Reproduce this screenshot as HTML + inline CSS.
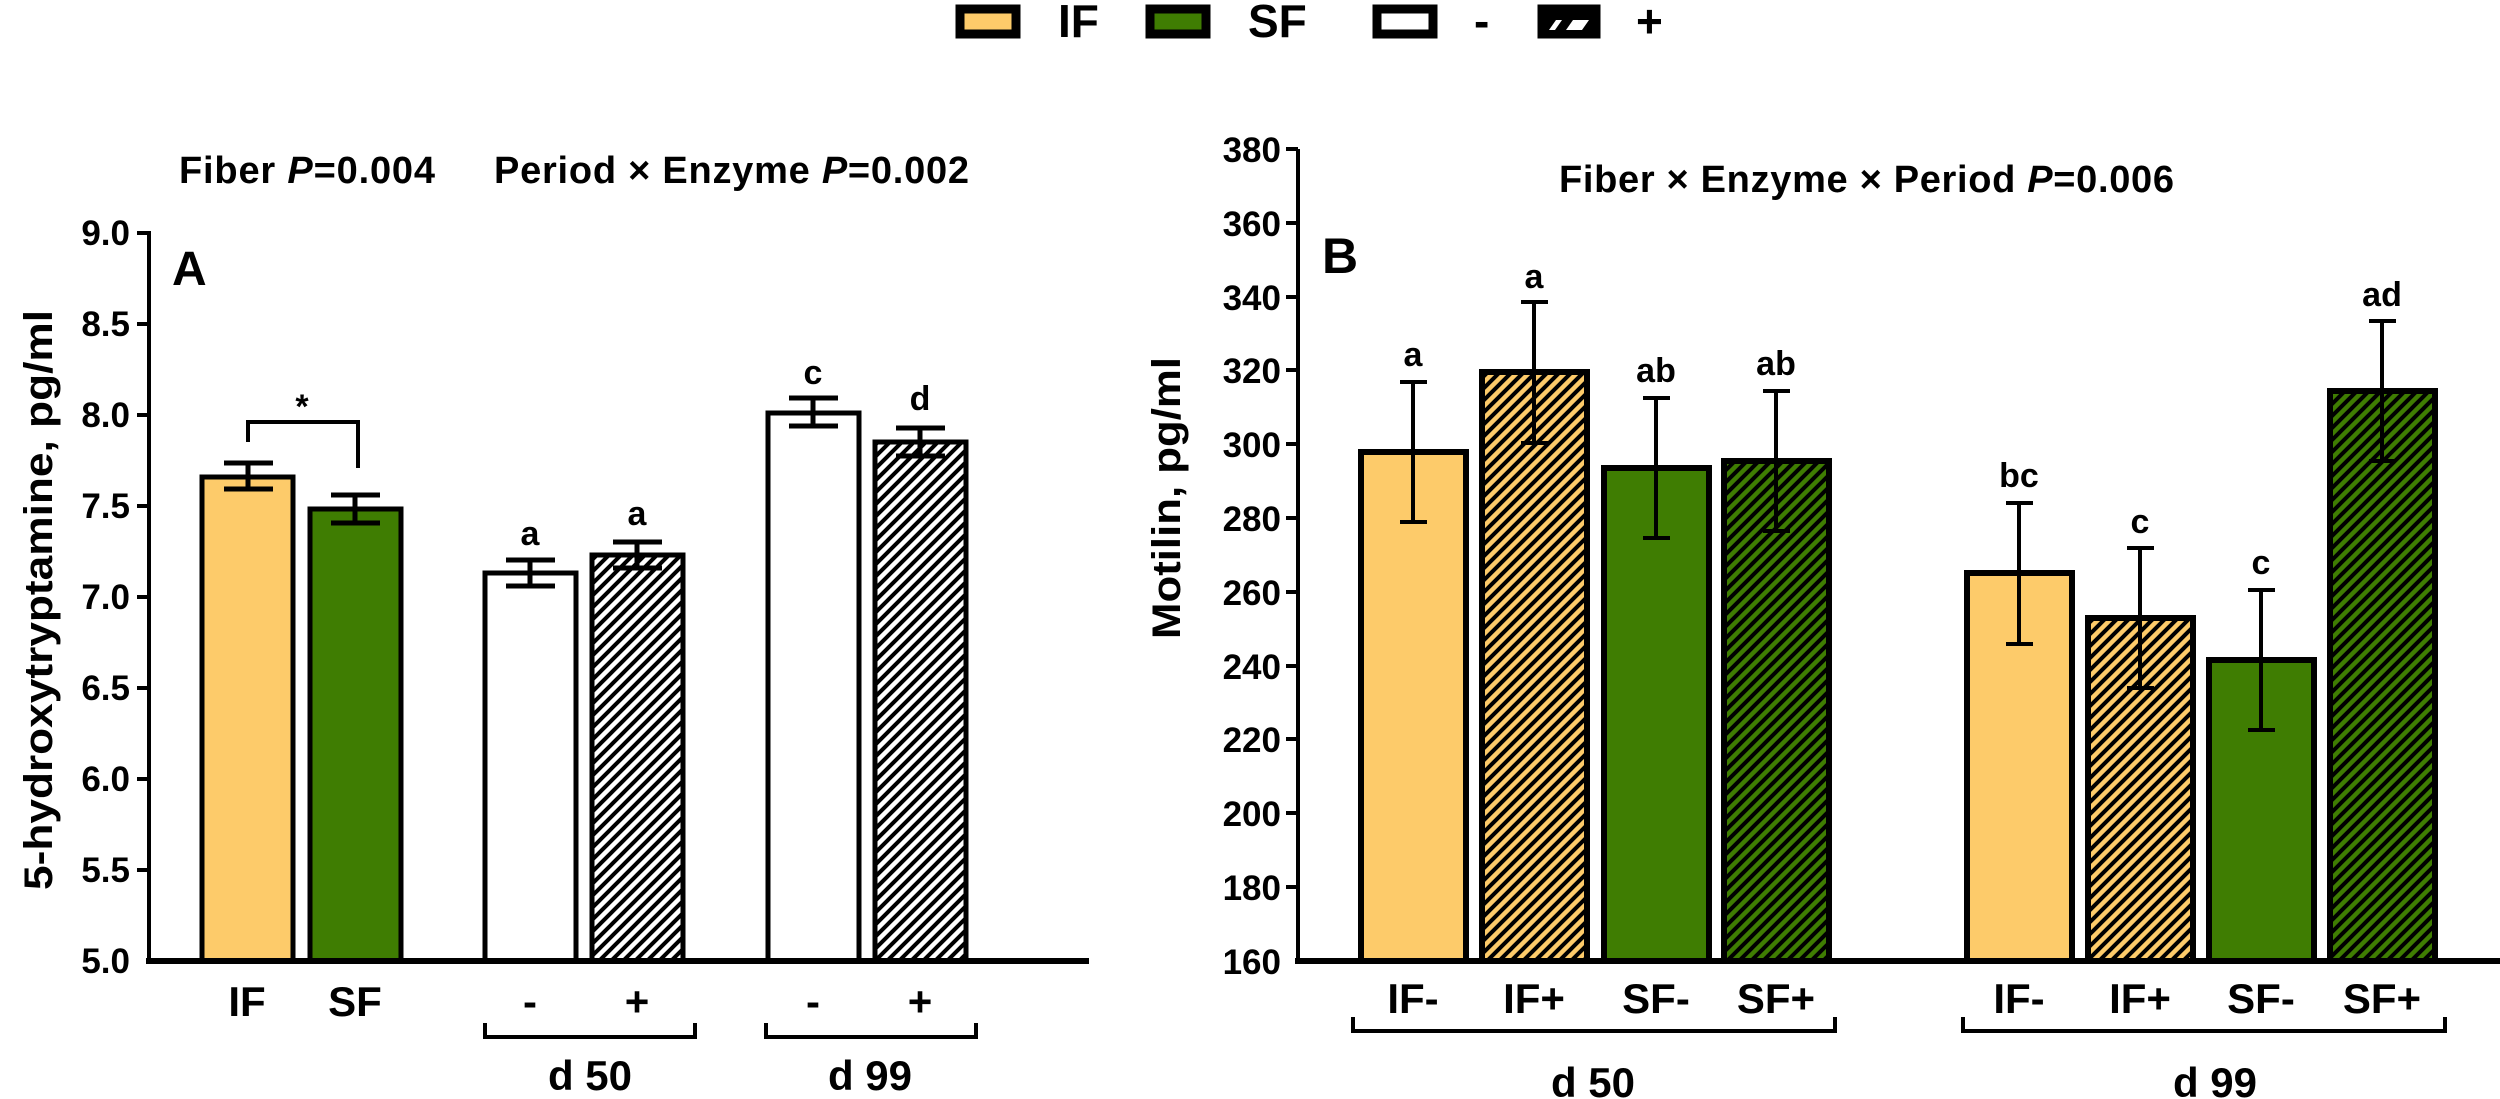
<!DOCTYPE html>
<html><head><meta charset="utf-8"><style>html,body{margin:0;padding:0;background:#fff}svg{display:block}text{font-family:"Liberation Sans",Arial,sans-serif;font-weight:bold;fill:#000}</style></head>
<body>
<svg width="2500" height="1099" viewBox="0 0 2500 1099" xmlns="http://www.w3.org/2000/svg">
<defs>
<pattern id="hw" patternUnits="userSpaceOnUse" width="12" height="12"><rect width="12" height="12" fill="#fff"/><path d="M-3,3 l6,-6 M0,12 l12,-12 M9,15 l6,-6" stroke="#000" stroke-width="4"/></pattern>
<pattern id="hy" patternUnits="userSpaceOnUse" width="12" height="12"><rect width="12" height="12" fill="#FDCB6A"/><path d="M-3,3 l6,-6 M0,12 l12,-12 M9,15 l6,-6" stroke="#000" stroke-width="4"/></pattern>
<pattern id="hg" patternUnits="userSpaceOnUse" width="12" height="12"><rect width="12" height="12" fill="#3F7D02"/><path d="M-3,3 l6,-6 M0,12 l12,-12 M9,15 l6,-6" stroke="#000" stroke-width="4"/></pattern>
</defs>
<!-- Legend -->
<rect x="960" y="9" width="56" height="25" fill="#FDCB6A" stroke="#000" stroke-width="9"/>
<text x="1058" y="37" font-size="46">IF</text>
<rect x="1150" y="9" width="56" height="25" fill="#3F7D02" stroke="#000" stroke-width="9"/>
<text x="1248" y="37" font-size="46">SF</text>
<rect x="1377" y="9" width="56" height="25" fill="#fff" stroke="#000" stroke-width="9"/>
<text x="1474" y="37" font-size="46">-</text>
<rect x="1542" y="9" width="54" height="25" fill="#000" stroke="#000" stroke-width="9"/>
<polygon points="1549,30 1556,20 1562,20 1555,30" fill="#fff"/><polygon points="1566,30 1573,20 1589,20 1582,30" fill="#fff"/>
<text x="1636" y="37" font-size="46">+</text>

<!-- Panel A -->
<text x="179" y="183" font-size="38" textLength="256"><tspan>Fiber </tspan><tspan font-style="italic">P</tspan><tspan>=0.004</tspan></text>
<text x="494" y="183" font-size="38" textLength="475"><tspan>Period × Enzyme </tspan><tspan font-style="italic">P</tspan><tspan>=0.002</tspan></text>
<text x="172" y="285" font-size="48">A</text>
<text transform="translate(52,600) rotate(-90)" text-anchor="middle" font-size="40" textLength="580" lengthAdjust="spacingAndGlyphs">5-hydroxytryptamine, pg/ml</text>
<g font-size="35" text-anchor="end">
<text x="130" y="245">9.0</text><text x="130" y="336">8.5</text><text x="130" y="427">8.0</text><text x="130" y="518">7.5</text><text x="130" y="609">7.0</text><text x="130" y="700">6.5</text><text x="130" y="791">6.0</text><text x="130" y="882">5.5</text><text x="130" y="973">5.0</text>
</g>
<g stroke="#000" stroke-width="4">
<line x1="149" y1="231" x2="149" y2="963"/>
<path d="M137,233H149M137,324H149M137,415H149M137,506H149M137,597H149M137,688H149M137,779H149M137,870H149"/>
</g>
<g stroke="#000" stroke-width="5">
<rect x="202" y="477" width="91" height="484" fill="#FDCB6A"/>
<rect x="310" y="509" width="91" height="452" fill="#3F7D02"/>
<rect x="485" y="573" width="91" height="388" fill="#fff"/>
<rect x="592" y="555" width="91" height="406" fill="url(#hw)"/>
<rect x="768" y="413" width="91" height="548" fill="#fff"/>
<rect x="875" y="442" width="91" height="519" fill="url(#hw)"/>
</g>
<g stroke="#000" stroke-width="5" fill="none">
<path d="M248,463V489M224,463H273M224,489H273"/>
<path d="M355,495V523M331,495H380M331,523H380"/>
<path d="M530,560V586M506,560H555M506,586H555"/>
<path d="M637,542V568M613,542H662M613,568H662"/>
<path d="M813,398V426M789,398H838M789,426H838"/>
<path d="M920,428V456M896,428H945M896,456H945"/>
<path d="M248,442V422H358V468" stroke-width="4"/>
</g>
<line x1="146" y1="961" x2="1089" y2="961" stroke="#000" stroke-width="6"/>
<g font-size="34" text-anchor="middle">
<text x="302" y="418">*</text>
<text x="530" y="545">a</text><text x="637" y="525">a</text><text x="813" y="384">c</text><text x="920" y="410">d</text>
</g>
<g font-size="42" text-anchor="middle">
<text x="247" y="1016">IF</text><text x="355" y="1016">SF</text>
<text x="530" y="1016">-</text><text x="637" y="1016">+</text>
<text x="813" y="1016">-</text><text x="920" y="1016">+</text>
<text x="590" y="1090">d 50</text><text x="870" y="1090">d 99</text>
</g>
<g stroke="#000" stroke-width="4" fill="none">
<path d="M485,1023V1037H695V1023"/><path d="M766,1023V1037H976V1023"/>
</g>

<!-- Panel B -->
<text x="1559" y="192" font-size="38" textLength="615"><tspan>Fiber × Enzyme × Period </tspan><tspan font-style="italic">P</tspan><tspan>=0.006</tspan></text>
<text x="1322" y="273" font-size="50">B</text>
<text transform="translate(1180,498) rotate(-90)" text-anchor="middle" font-size="40" textLength="282" lengthAdjust="spacingAndGlyphs">Motilin, pg/ml</text>
<g font-size="35" text-anchor="end">
<text x="1281" y="162">380</text><text x="1281" y="236">360</text><text x="1281" y="310">340</text><text x="1281" y="383">320</text><text x="1281" y="457">300</text><text x="1281" y="531">280</text><text x="1281" y="605">260</text><text x="1281" y="679">240</text><text x="1281" y="752">220</text><text x="1281" y="826">200</text><text x="1281" y="900">180</text><text x="1281" y="974">160</text>
</g>
<g stroke="#000" stroke-width="4">
<line x1="1298" y1="149" x2="1298" y2="963"/>
<path d="M1286,149H1298M1286,223H1298M1286,297H1298M1286,370H1298M1286,444H1298M1286,518H1298M1286,592H1298M1286,666H1298M1286,739H1298M1286,813H1298M1286,887H1298"/>
</g>
<g stroke="#000" stroke-width="6">
<rect x="1361" y="452" width="105" height="509" fill="#FDCB6A"/>
<rect x="1482" y="372" width="105" height="589" fill="url(#hy)"/>
<rect x="1604" y="468" width="105" height="493" fill="#3F7D02"/>
<rect x="1724" y="461" width="105" height="500" fill="url(#hg)"/>
<rect x="1967" y="573" width="105" height="388" fill="#FDCB6A"/>
<rect x="2088" y="618" width="105" height="343" fill="url(#hy)"/>
<rect x="2209" y="660" width="105" height="301" fill="#3F7D02"/>
<rect x="2330" y="391" width="105" height="570" fill="url(#hg)"/>
</g>
<g stroke="#000" stroke-width="4" fill="none">
<path d="M1413,382V522M1400,382H1427M1400,522H1427"/>
<path d="M1534,302V443M1521,302H1548M1521,443H1548"/>
<path d="M1656,398V538M1643,398H1670M1643,538H1670"/>
<path d="M1776,391V531M1763,391H1790M1763,531H1790"/>
<path d="M2019,503V644M2006,503H2033M2006,644H2033"/>
<path d="M2140,548V688M2127,548H2154M2127,688H2154"/>
<path d="M2261,590V730M2248,590H2275M2248,730H2275"/>
<path d="M2382,321V461M2369,321H2396M2369,461H2396"/>
</g>
<line x1="1295" y1="961" x2="2500" y2="961" stroke="#000" stroke-width="6"/>
<g font-size="34" text-anchor="middle">
<text x="1413" y="366">a</text><text x="1534" y="288">a</text><text x="1656" y="382">ab</text><text x="1776" y="375">ab</text>
<text x="2019" y="487">bc</text><text x="2140" y="533">c</text><text x="2261" y="574">c</text><text x="2382" y="306">ad</text>
</g>
<g font-size="42" text-anchor="middle">
<text x="1413" y="1013">IF-</text><text x="1534" y="1013">IF+</text><text x="1656" y="1013">SF-</text><text x="1776" y="1013">SF+</text>
<text x="2019" y="1013">IF-</text><text x="2140" y="1013">IF+</text><text x="2261" y="1013">SF-</text><text x="2382" y="1013">SF+</text>
<text x="1593" y="1097">d 50</text><text x="2215" y="1097">d 99</text>
</g>
<g stroke="#000" stroke-width="4" fill="none">
<path d="M1353,1017V1031H1835V1017"/><path d="M1963,1017V1031H2445V1017"/>
</g>
</svg>
</body></html>
